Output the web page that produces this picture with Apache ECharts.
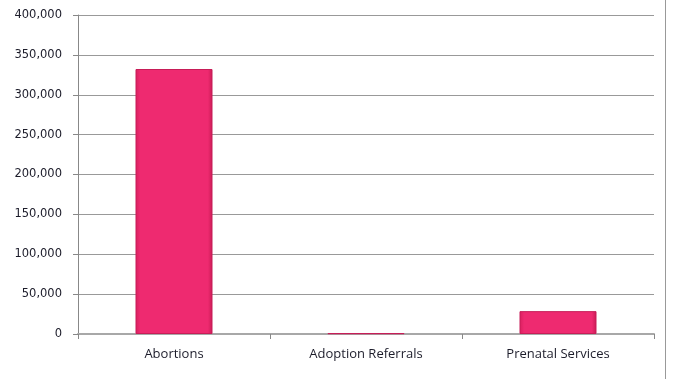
<!DOCTYPE html>
<html>
<head>
<meta charset="utf-8">
<script src="https://cdn.jsdelivr.net/npm/echarts@6/dist/echarts.min.js"></script>
<style>
  html, body { margin: 0; padding: 0; background: #ffffff; }
  #chart { width: 673px; height: 379px; }
</style>
</head>
<body>
<div id="chart"></div>
<script>
  // values
  let categories = ['Abortions', 'Adoption Referrals', 'Prenatal Services']
  let counts = [332278, 977, 28674]
  let yTicks = { min: 0, max: 400000, interval: 50000 }

  let myChart = echarts.init(document.getElementById('chart'))
  myChart.setOption({
    animation: false,
    grid: { left: 78, right: 19, top: 15, bottom: 45 },
    xAxis: {
      type: 'category',
      data: categories,
      axisLine: { lineStyle: { color: '#a8a8a8', width: 2 } },
      axisTick: { show: true, length: 5, lineStyle: { color: '#888' } },
      axisLabel: { color: '#1c1c2a', fontFamily: 'Open Sans', fontSize: 13, margin: 14 }
    },
    yAxis: {
      type: 'value',
      min: yTicks.min,
      max: yTicks.max,
      interval: yTicks.interval,
      axisLine: { show: true, lineStyle: { color: '#888' } },
      axisTick: { show: true, length: 5, lineStyle: { color: '#888' } },
      splitLine: { lineStyle: { color: '#999', width: 1 } },
      axisLabel: {
        color: '#1c1c2a',
        fontFamily: 'DejaVu Sans',
        fontSize: 11.5,
        margin: 16,
        formatter: function (v) { return v.toLocaleString('en-US') }
      }
    },
    series: [{
      type: 'bar',
      data: counts,
      barWidth: 77,
      itemStyle: {
        color: new echarts.graphic.LinearGradient(0, 0, 1, 0, [
          { offset: 0, color: '#d81f5e' },
          { offset: 0.06, color: '#ee2a70' },
          { offset: 0.94, color: '#ee2a70' },
          { offset: 1, color: '#c91b55' }
        ]),
        borderColor: '#c71d58',
        borderWidth: 1
      }
    }],
    graphic: [{
      type: 'line',
      shape: { x1: 665.5, y1: 0, x2: 665.5, y2: 379 },
      style: { stroke: '#999', lineWidth: 1 }
    }]
  })
</script>
</body>
</html>
